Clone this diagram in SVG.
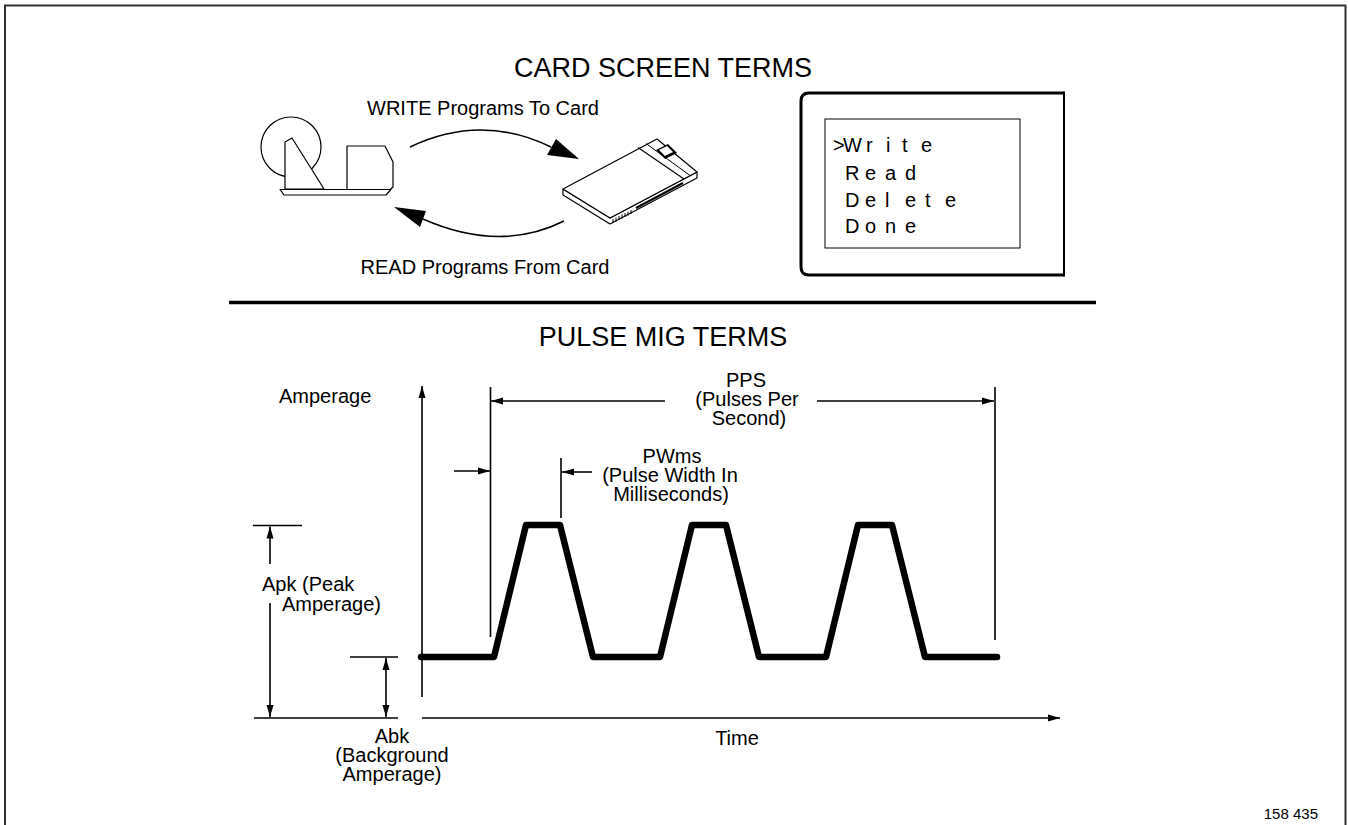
<svg xmlns="http://www.w3.org/2000/svg" width="1348" height="825" viewBox="0 0 1348 825">
  <style>
    text { font-family: "Liberation Sans", Arial, sans-serif; fill: #000; }
    .title { font-size: 27px; text-anchor: middle; }
    .lbl { font-size: 20px; }
    .mid { text-anchor: middle; }
    .lcd { font-size: 20px; }
    .ln { stroke: #000; stroke-width: 1.6; fill: none; }
    .thin { stroke: #000; stroke-width: 1.2; fill: #fff; stroke-linejoin: round; }
    .wave { stroke: #000; stroke-width: 6.5; fill: none; stroke-linejoin: round; stroke-linecap: round; }
  </style>
  <defs>
    <marker id="ah" markerUnits="userSpaceOnUse" markerWidth="12" markerHeight="8" refX="12" refY="4" orient="auto-start-reverse" viewBox="0 0 12 8">
      <path d="M0,0.5 L12,4 L0,7.5 z" fill="#000"/>
    </marker>
  </defs>

  <rect width="1348" height="825" fill="#fff"/>

  <!-- page frame (open at the bottom) -->
  <path d="M5,825 V5.5 H1345.5 V825" fill="none" stroke="#333" stroke-width="2"/>

  <!-- upper section -->
  <text class="title" x="663" y="77">CARD SCREEN TERMS</text>

  <g id="welder">
    <circle cx="291" cy="147" r="30" fill="none" stroke="#000" stroke-width="1.2"/>
    <polygon class="thin" points="285,189 285,142 292,138 324,189"/>
    <polygon class="thin" points="280,189.5 391,189.5 386,195 284,195"/>
    <polygon class="thin" points="347,189.5 347,146 385,146 393,162 393,187 390,189.5"/>
  </g>

  <g id="card">
    <polygon class="thin" points="563,189 610,218 697,172 697,178 610,224 563,195"/>
    <polygon class="thin" points="563,189 657,139 697,172 610,218"/>
    <line x1="638" y1="147.5" x2="684" y2="179" stroke="#000" stroke-width="1.2"/>
    <line x1="646" y1="143.5" x2="690" y2="175.5" stroke="#000" stroke-width="1"/>
    <polygon points="656,150 668,144 677,153 665,159" fill="#000"/>
    <polygon points="659,150 667,146 673,152 665,156" fill="#fff"/>
    <line x1="636" y1="208" x2="683" y2="183" stroke="#000" stroke-width="2"/>
    <g stroke="#000" stroke-width="1">
      <line x1="613" y1="219" x2="613" y2="223"/>
      <line x1="616" y1="217.5" x2="616" y2="221.5"/>
      <line x1="619" y1="216" x2="619" y2="220"/>
      <line x1="622" y1="214.5" x2="622" y2="218.5"/>
      <line x1="625" y1="213" x2="625" y2="217"/>
      <line x1="628" y1="211.5" x2="628" y2="215.5"/>
      <line x1="631" y1="210" x2="631" y2="214"/>
    </g>
  </g>

  <g id="screen">
    <path d="M1064,93 H809 Q801,93 801,101 V267 Q801,275 809,275 H1064" fill="none" stroke="#000" stroke-width="3"/>
    <line x1="1064" y1="91.5" x2="1064" y2="276.5" stroke="#000" stroke-width="2"/>
    <rect x="825" y="119" width="195" height="129" fill="none" stroke="#000" stroke-width="1"/>
    <text class="lcd" x="833 843 866 886 902 921" y="152">&gt;Write</text>
    <text class="lcd" x="845 865 885 905" y="180">Read</text>
    <text class="lcd" x="845 865 885 905 925 945" y="207">Delete</text>
    <text class="lcd" x="845 865 885 905" y="233">Done</text>
  </g>

  <g id="connectors">
    <path d="M410,147 Q481,113 551,147" class="ln" stroke-width="1.3"/>
    <polygon points="579,159 556,139 547,155" fill="#000"/>
    <path d="M564,221 Q500,253 423,219" class="ln" stroke-width="1.3"/>
    <polygon points="394,207 426,211 420,227" fill="#000"/>
  </g>
  <text class="lbl mid" x="483" y="115">WRITE Programs To Card</text>
  <text class="lbl mid" x="485" y="274">READ Programs From Card</text>

  <line x1="229" y1="302.5" x2="1096" y2="302.5" stroke="#000" stroke-width="3.5"/>

  <!-- lower section -->
  <text class="title" x="663" y="346">PULSE MIG TERMS</text>

  <g id="axes">
    <line class="ln" x1="422" y1="697" x2="422" y2="386" marker-end="url(#ah)"/>
    <line class="ln" x1="422" y1="718" x2="1060" y2="718" marker-end="url(#ah)"/>
    <text class="lbl" x="279" y="403">Amperage</text>
    <text class="lbl mid" x="737" y="745">Time</text>
  </g>

  <g id="waveform">
    <path class="wave" d="M421,657 H494 L526,525 H560 L593,657 H660 L692,525 H726 L759,657 H826 L858,525 H892 L925,657 H997"/>
  </g>

  <g id="pps">
    <line class="ln" x1="490.5" y1="387" x2="490.5" y2="637"/>
    <line class="ln" x1="995" y1="387" x2="995" y2="640"/>
    <line class="ln" x1="665" y1="401" x2="491" y2="401" marker-end="url(#ah)"/>
    <line class="ln" x1="817" y1="401" x2="994" y2="401" marker-end="url(#ah)"/>
    <text class="lbl mid" x="746" y="387">PPS</text>
    <text class="lbl mid" x="747" y="406">(Pulses Per</text>
    <text class="lbl mid" x="749" y="425">Second)</text>
  </g>

  <g id="pwms">
    <line class="ln" x1="561" y1="458" x2="561" y2="518"/>
    <line class="ln" x1="454" y1="471" x2="490" y2="471" marker-end="url(#ah)"/>
    <line class="ln" x1="592" y1="472" x2="562" y2="472" marker-end="url(#ah)"/>
    <text class="lbl mid" x="672" y="463">PWms</text>
    <text class="lbl mid" x="670" y="482">(Pulse Width In</text>
    <text class="lbl mid" x="671" y="501">Milliseconds)</text>
  </g>

  <g id="apk">
    <line class="ln" x1="253" y1="525.5" x2="302" y2="525.5"/>
    <line class="ln" x1="254" y1="718" x2="398" y2="718"/>
    <line class="ln" x1="270" y1="564" x2="270" y2="526.5" marker-end="url(#ah)"/>
    <line class="ln" x1="270" y1="603" x2="270" y2="717" marker-end="url(#ah)"/>
    <text class="lbl" x="262" y="591">Apk (Peak</text>
    <text class="lbl" x="282" y="611">Amperage)</text>
  </g>

  <g id="abk">
    <line class="ln" x1="350" y1="657" x2="398" y2="657"/>
    <line class="ln" x1="386" y1="658" x2="386" y2="717" marker-start="url(#ah)" marker-end="url(#ah)"/>
    <text class="lbl mid" x="392" y="743">Abk</text>
    <text class="lbl mid" x="392" y="762">(Background</text>
    <text class="lbl mid" x="392" y="781">Amperage)</text>
  </g>

  <text x="1318" y="819" font-size="15" text-anchor="end">158 435</text>
</svg>
